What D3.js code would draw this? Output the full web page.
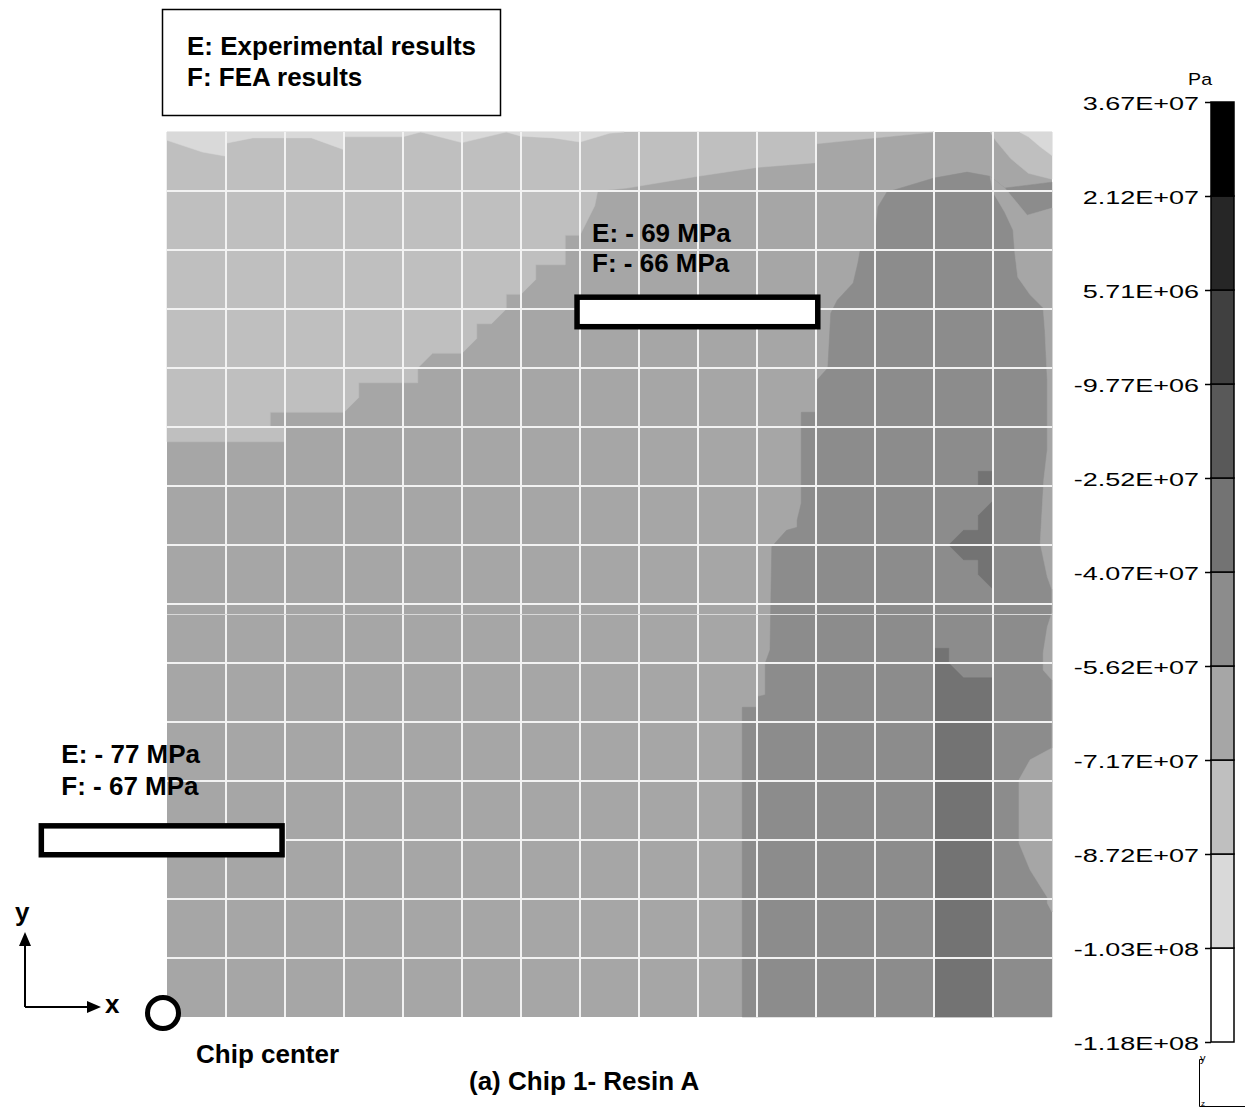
<!DOCTYPE html>
<html>
<head>
<meta charset="utf-8">
<script src="https://cdn.jsdelivr.net/npm/d3@7"></script>
<style>
  body { margin: 0; background: #fff; }
  svg { display: block; }
  text { font-family: "Liberation Sans", Arial, Helvetica, sans-serif; }
</style>
</head>
<body>
<svg id="chart" width="1245" height="1109"></svg>
<script>
// ---- Stress contour levels (Pa), low to high ----
const levelValues = [-1.18e8, -1.03e8, -8.72e7, -7.17e7, -5.62e7, -4.07e7, -2.52e7, -9.77e6, 5.71e6, 2.12e7, 3.67e7];
const levelLabels = ["-1.18E+08", "-1.03E+08", "-8.72E+07", "-7.17E+07", "-5.62E+07", "-4.07E+07",
                     "-2.52E+07", "-9.77E+06", "5.71E+06", "2.12E+07", "3.67E+07"];
// fill of each band between consecutive levels
const bandGrays = ["#ffffff", "#d9d9d9", "#bfbfbf", "#a6a6a6", "#8c8c8c", "#737373",
                   "#595959", "#404040", "#262626", "#000000"];

// ---- Stress field over the quarter chip, in grid cells (x right, y up, chip centre at 0,0) ----
const fieldBand = 3;                      // band that covers the rest of the quarter chip
const lightRegion = [[0,9.75],[2,9.75],[2,10],[1.75,10],[1.75,10.25],[3,10.25],[3.25,10.5],[3.25,10.75],
  [4.25,10.75],[4.25,11],[4.5,11.25],[5,11.25],[5.25,11.5],[5.25,11.75],[5.5,11.75],[5.75,12],[5.75,12.25],
  [6,12.25],[6.25,12.5],[6.25,12.75],[6.75,12.75],[6.75,13.25],[7,13.25],[7.25,13.75],[7.3,14],[7.8,14.05],
  [9,14.25],[10,14.4],[11,14.48],[11,14.8],[13,15],[0,15]];
const lightestStrip = [[0,15],[0,14.86],[0.6,14.66],[1,14.59],[1,14.81],[1.45,14.9],[2.45,14.9],[3,14.7],
  [3,14.92],[4,14.92],[4.3,15],[4.5,14.95],[5,14.82],[5.75,15],[6,14.93],[6.55,14.9],[7,14.83],[7.5,14.98],[7.75,15]];
const cornerLight = [[13.95,15],[15,15],[15,14.2],[14.6,14.3],[14.3,14.55],[14.05,14.85]];
const cornerLightest = [[14.45,15],[15,15],[15,14.6],[14.8,14.75],[14.6,14.92]];
const darkRegion = [[9.75,0],[9.75,5.25],[10,5.25],[10,5.43],[10.14,5.46],[10.14,6],[10.22,6.22],[10.25,7.97],
  [10.5,8.25],[10.68,8.3],[10.68,8.42],[10.75,8.71],[10.75,10.25],[11,10.25],[11.02,10.8],[11.2,11],
  [11.25,11.93],[11.36,12.15],[11.63,12.44],[11.71,12.78],[11.75,13],[12,13],[12,13.25],[12.05,13.73],
  [12.2,13.98],[13,14.22],[13.56,14.32],[13.95,14.25],[14.2,14.05],[15,14.15],[15,0]];
const edgeStrip = [[13.95,14.25],[14,13.98],[14.2,13.64],[14.34,13.34],[14.37,12.95],[14.42,12.54],
  [14.63,12.24],[14.85,12.02],[14.88,11.64],[14.92,10.8],[14.92,9.61],[14.86,9.1],[14.8,8.03],[14.92,7.46],
  [15,7.24],[15,6.86],[14.92,6.61],[14.85,6.17],[14.85,5.88],[15,5.71],[15,4.56],[14.63,4.36],[14.44,4.02],
  [14.44,2.95],[14.63,2.49],[14.92,2.03],[14.92,1.93],[15,1.78],[15,13.71],[14.58,13.59],[14.2,14.05]];
const darkestColumn = [[13,0],[13,6.25],[13.25,6.25],[13.25,6],[13.5,5.75],[14,5.75],[14,0]];
const darkestCross = [[14,8.75],[13.75,8.5],[13.75,8.25],[13.5,8.25],[13.25,8],[13.5,7.75],[13.75,7.75],
  [13.75,7.5],[14,7.25]];
const darkestSquare = [[13.75,9],[14,9],[14,9.25],[13.75,9.25]];
// painted in this order, each with its band
const regionOutlines = [lightRegion, lightestStrip, cornerLight, cornerLightest, darkRegion, edgeStrip,
                        darkestColumn, darkestCross, darkestSquare];
const regionBands = [2, 1, 2, 1, 4, 3, 5, 5, 5];

// ---- Strain gauge sites (grid cells) and stresses (MPa) ----
const gaugeXs = [[-2.13, 1.95], [6.95, 11.03]];
const gaugeYs = [[2.75, 3.24], [11.7, 12.2]];
const experimentalMPa = [-77, -69];
const feaMPa = [-67, -66];

const legendLines = ["E: Experimental results", "F: FEA results"];

// ---------------------------------------------------------------
const svg = d3.select("#chart");
const x = d3.scaleLinear().domain([0, 15]).range([167, 1052]);
const y = d3.scaleLinear().domain([0, 15]).range([1017, 132]);
const outline = d3.line().x(d => x(d[0])).y(d => y(d[1])).curve(d3.curveLinearClosed);

// field
const field = svg.append("g");
field.append("rect")
  .attr("x", x(0)).attr("y", y(15))
  .attr("width", x(15) - x(0)).attr("height", y(0) - y(15))
  .attr("fill", bandGrays[fieldBand]);
field.selectAll("path.region")
  .data(regionOutlines)
  .join("path")
  .attr("class", "region")
  .attr("d", outline)
  .attr("fill", (d, i) => bandGrays[regionBands[i]])
  .attr("stroke", (d, i) => bandGrays[regionBands[i]])
  .attr("stroke-width", 0.5);

// white grid, one line per cell
const cells = d3.range(1, 15);
const grid = svg.append("g").attr("stroke", "#f2f2f2").attr("stroke-width", 2);
grid.selectAll("line.v").data(cells).join("line").attr("class", "v")
  .attr("x1", d => x(d)).attr("x2", d => x(d)).attr("y1", y(15)).attr("y2", y(0));
grid.selectAll("line.h").data(cells).join("line").attr("class", "h")
  .attr("y1", d => y(d)).attr("y2", d => y(d)).attr("x1", x(0)).attr("x2", x(15));

// thin rule across the field and the colour scale
const ruleY = Math.round(y(6.83)) + 0.5;
const barX = 1211, barW = 23;
svg.append("path")
  .attr("d", `M${x(0)},${ruleY}H${x(15)}M${barX},${ruleY}H${barX + barW}`)
  .attr("stroke", "#d8d8d8").attr("stroke-width", 1).attr("fill", "none");

// gauges with their readings
const labelOffsets = [{ dx: 20, dy: -63, lh: 32 }, { dx: 15, dy: -55, lh: 30 }];
const gauges = svg.append("g");
gaugeXs.forEach((gx, i) => {
  const gy = gaugeYs[i];
  gauges.append("rect")
    .attr("x", x(gx[0])).attr("y", y(gy[1]))
    .attr("width", x(gx[1]) - x(gx[0])).attr("height", y(gy[0]) - y(gy[1]))
    .attr("fill", "#fff").attr("stroke", "#000").attr("stroke-width", 5.5);
  const lx = x(gx[0]) + labelOffsets[i].dx, ly = y(gy[1]) + labelOffsets[i].dy;
  const fmt = v => `- ${Math.abs(v)} MPa`;
  gauges.append("text").attr("x", lx).attr("y", ly)
    .attr("font-size", 26).attr("font-weight", "bold").text(`E: ${fmt(experimentalMPa[i])}`);
  gauges.append("text").attr("x", lx).attr("y", ly + labelOffsets[i].lh)
    .attr("font-size", 26).attr("font-weight", "bold").text(`F: ${fmt(feaMPa[i])}`);
});

// legend box
svg.append("rect").attr("x", 162.5).attr("y", 9.5).attr("width", 338).attr("height", 106)
  .attr("fill", "#fff").attr("stroke", "#000").attr("stroke-width", 1.5);
svg.selectAll("text.legend").data(legendLines).join("text").attr("class", "legend")
  .attr("x", 187).attr("y", (d, i) => 55 + i * 31)
  .attr("font-size", 26).attr("font-weight", "bold").text(d => d);

// chip centre marker and x/y directions
svg.append("circle").attr("cx", x(0) - 4).attr("cy", y(0) - 4).attr("r", 15.5)
  .attr("fill", "#fff").attr("stroke", "#000").attr("stroke-width", 5);
svg.append("text").attr("x", 196).attr("y", 1063).attr("font-size", 26).attr("font-weight", "bold").text("Chip center");
const axes = svg.append("g");
axes.append("path").attr("d", "M25,1007V944M25,1007H88").attr("fill", "none").attr("stroke", "#000").attr("stroke-width", 2);
axes.append("path").attr("d", "M25,932L19,946L31,946Z M101,1007L87,1001L87,1013Z").attr("fill", "#000");
axes.append("text").attr("x", 15).attr("y", 921).attr("font-size", 26).attr("font-weight", "bold").text("y");
axes.append("text").attr("x", 105).attr("y", 1013).attr("font-size", 26).attr("font-weight", "bold").text("x");

svg.append("text").attr("x", 469).attr("y", 1090).attr("font-size", 26).attr("font-weight", "bold")
  .text("(a) Chip 1- Resin A");

// colour scale
const cb = d3.scalePoint().domain(levelLabels).range([1042, 102]);
const bar = svg.append("g");
bar.selectAll("rect").data(d3.range(levelLabels.length - 1)).join("rect")
  .attr("x", barX).attr("width", barW)
  .attr("y", i => cb(levelLabels[i + 1]))
  .attr("height", i => cb(levelLabels[i]) - cb(levelLabels[i + 1]))
  .attr("fill", i => bandGrays[i])
  .attr("stroke", "#000").attr("stroke-width", 1.5);
const cbAxis = svg.append("g").attr("transform", `translate(${barX},0)`)
  .call(d3.axisLeft(cb).tickSize(6).tickPadding(0));
cbAxis.select(".domain").remove();
cbAxis.selectAll(".tick line").attr("stroke", "#000").attr("stroke-width", 1.5);
cbAxis.selectAll(".tick text")
  .attr("x", 0).attr("dy", "0.39em")
  .attr("transform", "translate(-12,0) scale(1.5,1)")
  .attr("font-size", 18).attr("fill", "#000")
  .attr("font-family", "'Liberation Sans', Arial, sans-serif");
svg.append("text").attr("text-anchor", "end").attr("transform", "translate(1212,85) scale(1.15,1)")
  .attr("font-size", 17).text("Pa");

// view triad under the scale
const triad = svg.append("g").attr("stroke", "#000").attr("stroke-width", 1).attr("fill", "none");
triad.append("path").attr("d", "M1203.5,1059.5H1199.5V1106.5H1245");
svg.append("text").attr("x", 1200).attr("y", 1062).attr("font-size", 11).text("y");
svg.append("text").attr("x", 1201).attr("y", 1106).attr("font-size", 8).text("z");
</script>
</body>
</html>
